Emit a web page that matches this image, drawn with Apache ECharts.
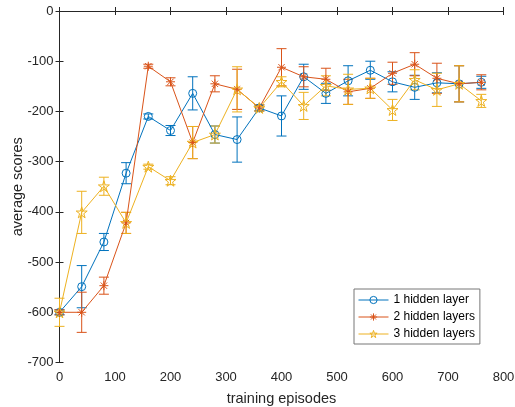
<!DOCTYPE html>
<html>
<head>
<meta charset="utf-8">
<script src="https://cdn.jsdelivr.net/npm/echarts@6/dist/echarts.min.js"></script>
<style>
  html, body { margin: 0; padding: 0; background: #fff; }
  #chart { width: 515px; height: 407px; }
</style>
</head>
<body>
<div id="chart"></div>
<script>
// training episodes
const episodes = [0, 40, 80, 120, 160, 200, 240, 280, 320, 360, 400, 440, 480, 520, 560, 600, 640, 680, 720, 760];

// average scores and error half-widths
const oneLayer    = [-600, -549, -460, -323, -210, -238, -164, -246, -256, -193, -209, -131, -164, -139, -118, -141, -152, -143, -145, -142];
const oneLayerErr = [5, 42, 17, 21, 5, 10, 33, 17, 45, 6, 40, 25, 20, 30, 18, 20, 24, 20, 36, 12];

const twoLayers    = [-600, -600, -547, -422, -110, -141, -262, -145, -156, -193, -112, -131, -136, -161, -154, -124, -106, -134, -145, -142];
const twoLayersErr = [5, 40, 17, 21, 4, 8, 32, 16, 40, 6, 37, 20, 22, 25, 20, 22, 23, 30, 36, 15];

const threeLayers    = [-600, -401, -349, -422, -310, -338, -262, -246, -156, -193, -141, -189, -149, -156, -154, -197, -137, -157, -145, -179];
const threeLayersErr = [28, 42, 18, 21, 5, 8, 32, 17, 45, 6, 10, 27, 20, 30, 20, 21, 20, 33, 36, 13];

const seriesNames = ["1 hidden layer", "2 hidden layers", "3 hidden layers"];
const colors = ["#0072BD", "#D95319", "#EDB120"];

const asteriskPath = "path://M5,0L5,10M0,5L10,5M1.5,1.5L8.5,8.5M1.5,8.5L8.5,1.5";
const starPath = "path://M10,0L12.245,6.91L19.511,6.91L13.633,11.18L15.878,18.09L10,13.82L4.122,18.09L6.367,11.18L0.489,6.91L7.755,6.91Z";
const symbols = ["circle", asteriskPath, starPath];
const symbolSizes = [8, 9, 11];

const chart = echarts.init(document.getElementById("chart"), null, { renderer: "canvas" });

function errData(vals, errs) {
  return episodes.map((x, i) => [x, vals[i] - errs[i], vals[i] + errs[i]]);
}

function errorBars(color) {
  return function (params, api) {
    const x = api.value(0);
    const lo = api.coord([x, api.value(1)]);
    const hi = api.coord([x, api.value(2)]);
    const w = 5;
    const style = { stroke: color, lineWidth: 1 };
    return {
      type: "group",
      children: [
        { type: "line", shape: { x1: lo[0], y1: lo[1], x2: hi[0], y2: hi[1] }, style },
        { type: "line", shape: { x1: lo[0] - w, y1: lo[1], x2: lo[0] + w, y2: lo[1] }, style },
        { type: "line", shape: { x1: hi[0] - w, y1: hi[1], x2: hi[0] + w, y2: hi[1] }, style },
      ],
    };
  };
}

function lineSeries(idx, vals) {
  const color = colors[idx];
  return {
    name: seriesNames[idx],
    type: "line",
    data: episodes.map((x, i) => [x, vals[i]]),
    symbol: symbols[idx],
    symbolSize: symbolSizes[idx],
    showAllSymbol: true,
    color: color,
    lineStyle: { color: color, width: 1 },
    itemStyle: { color: "rgba(0,0,0,0)", borderColor: color, borderWidth: 1 },
    emphasis: { disabled: true },
    z: 3,
  };
}

function errSeries(vals, errs, color) {
  return {
    type: "custom",
    data: errData(vals, errs),
    encode: { x: 0, y: [1, 2] },
    renderItem: errorBars(color),
    silent: true,
    z: 2,
  };
}

const axisColor = "#262626";
const font = "Liberation Sans, Arial, sans-serif";
const tickFont = { color: axisColor, fontSize: 13, fontFamily: font };

function mirrorAxis(pos, min, max) {
  return {
    type: "value",
    position: pos,
    min: min,
    max: max,
    interval: 100,
    axisLine: { lineStyle: { color: axisColor } },
    axisTick: { inside: true, length: 4, lineStyle: { color: axisColor } },
    axisLabel: { show: false },
    splitLine: { show: false },
  };
}

chart.setOption({
  backgroundColor: "#fff",
  animation: false,
  grid: { left: 59.5, right: 11.5, top: 11, bottom: 44.5, containLabel: false, outerBoundsMode: "none" },
  legend: {
    data: seriesNames.map((n, i) => ({
      name: n,
      itemStyle: { color: "rgba(0,0,0,0)", borderColor: colors[i], borderWidth: 1 },
      lineStyle: { color: colors[i], width: 1 },
    })),
    orient: "vertical",
    left: 354,
    top: 289,
    itemWidth: 30,
    itemHeight: 9,
    itemGap: 3,
    padding: [4, 5, 3, 4],
    borderColor: "#777",
    borderWidth: 1,
    backgroundColor: "#fff",
    textStyle: { color: "#000", fontSize: 12, lineHeight: 14, fontFamily: font },
  },
  xAxis: [
    {
      type: "value",
      min: 0,
      max: 800,
      interval: 100,
      name: "training episodes",
      nameLocation: "middle",
      nameGap: 29,
      nameMoveOverlap: false,
      nameTextStyle: { color: axisColor, fontSize: 14.5, fontFamily: font },
      axisLine: { lineStyle: { color: axisColor } },
      axisTick: { inside: true, length: 4, lineStyle: { color: axisColor } },
      axisLabel: Object.assign({ margin: 8 }, tickFont),
      splitLine: { show: false },
    },
    mirrorAxis("top", 0, 800),
  ],
  yAxis: [
    {
      type: "value",
      min: -700,
      max: 0,
      interval: 100,
      name: "average scores",
      nameLocation: "middle",
      nameGap: 34,
      nameMoveOverlap: false,
      nameTextStyle: { color: axisColor, fontSize: 14.5, fontFamily: font },
      axisLine: { lineStyle: { color: axisColor } },
      axisTick: { inside: true, length: 4, lineStyle: { color: axisColor } },
      axisLabel: Object.assign({ margin: 6 }, tickFont),
      splitLine: { show: false },
    },
    mirrorAxis("right", -700, 0),
  ],
  series: [
    errSeries(oneLayer, oneLayerErr, colors[0]),
    lineSeries(0, oneLayer),
    errSeries(twoLayers, twoLayersErr, colors[1]),
    lineSeries(1, twoLayers),
    errSeries(threeLayers, threeLayersErr, colors[2]),
    lineSeries(2, threeLayers),
  ],
});
</script>
</body>
</html>
